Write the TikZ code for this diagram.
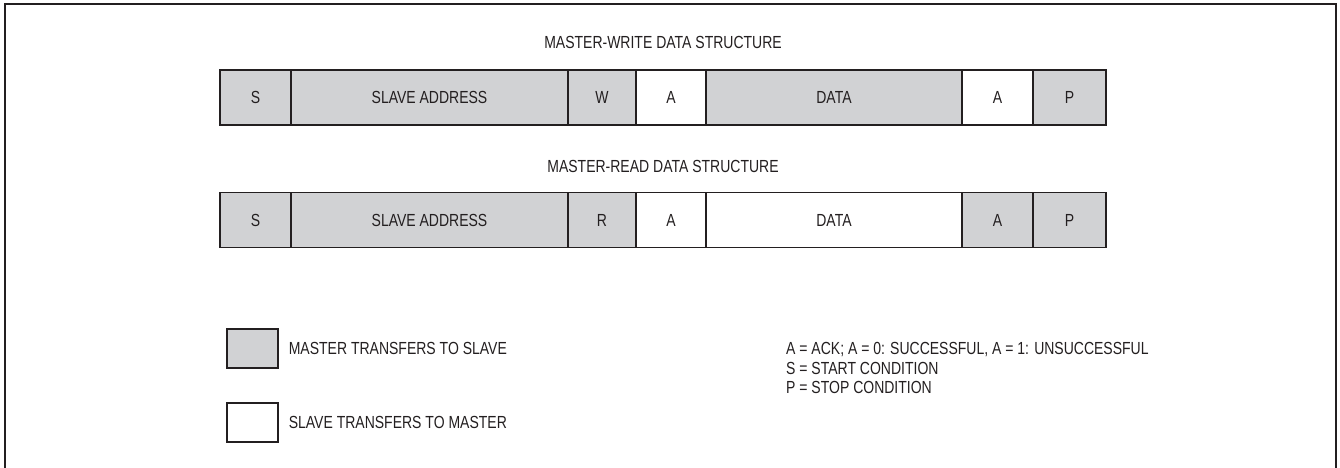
\documentclass[tikz,border=0pt]{standalone}
\usepackage{fontspec}
\setmainfont{Liberation Sans}[FakeStretch=0.8]
\usetikzlibrary{positioning}
\definecolor{mgray}{RGB}{209,210,212}
\definecolor{ink}{RGB}{35,31,32}

\begin{document}
\begin{tikzpicture}[x=1pt, y=-1pt]
	\useasboundingbox (0, 0) rectangle (1340, 468);
	\draw [ink, line width=2pt] (5, 4) rectangle (1336, 490);
	\begin{scope}
		\tikzstyle{every node}=[text=ink, inner sep=0pt, font=\fontsize{17.5}{21}\selectfont]
		\tikzstyle{mfield}=[draw=ink, line width=1.2pt, fill=mgray, minimum height=55pt]
		\tikzstyle{sfield}=[mfield, fill=white]

		% master-write
		\node (wtitle) at (663, 42) {MASTER-WRITE DATA STRUCTURE};
		\node [mfield, minimum width=71pt]  (ws)    at (255.5, 97.5) {S};
		\node [mfield, minimum width=277pt] (wadr)  at (429.5, 97.5) {SLAVE ADDRESS};
		\node [mfield, minimum width=68pt]  (wbit)  at (602, 97.5)   {W};
		\node [sfield, minimum width=70pt]  (wack)  at (671, 97.5)   {A};
		\node [mfield, minimum width=256pt] (wdata) at (834, 97.5)   {DATA};
		\node [sfield, minimum width=71pt]  (wack2) at (997.5, 97.5) {A};
		\node [mfield, minimum width=73pt]  (wp)    at (1069.5, 97.5) {P};

		% master-read
		\node (rtitle) at (663, 166) {MASTER-READ DATA STRUCTURE};
		\node [mfield, minimum width=71pt]  (rs)    at (255.5, 220) {S};
		\node [mfield, minimum width=277pt] (radr)  at (429.5, 220) {SLAVE ADDRESS};
		\node [mfield, minimum width=68pt]  (rbit)  at (602, 220)   {R};
		\node [sfield, minimum width=70pt]  (rack)  at (671, 220)   {A};
		\node [sfield, minimum width=256pt] (rdata) at (834, 220)   {DATA};
		\node [mfield, minimum width=71pt]  (rack2) at (997.5, 220) {A};
		\node [mfield, minimum width=73pt]  (rp)    at (1069.5, 220) {P};

		% key
		\node [mfield, minimum width=51pt, minimum height=39pt] (keym) at (252.5, 348.5) {};
		\node [sfield, minimum width=51pt, minimum height=39pt] (keys) at (252.5, 422.5) {};
		\node [right=10pt of keym] (keymtxt) {MASTER TRANSFERS TO SLAVE};
		\node [right=10pt of keys] (keystxt) {SLAVE TRANSFERS TO MASTER};

		\node [anchor=base west] (defa) at (786, 354.5) {A = ACK; A = 0: SUCCESSFUL, A = 1: UNSUCCESSFUL};
		\node [anchor=base west] (defs) at (786, 374)   {S = START CONDITION};
		\node [anchor=base west] (defp) at (786, 393.5) {P = STOP CONDITION};
	\end{scope}
\end{tikzpicture}
\end{document}
